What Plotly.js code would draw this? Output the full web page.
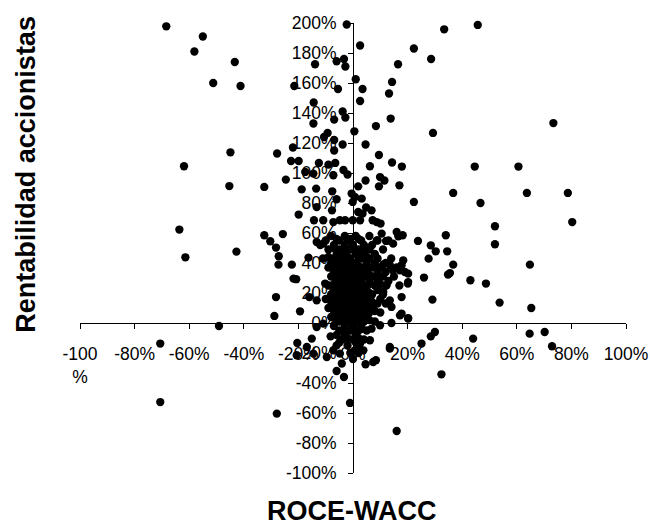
<!DOCTYPE html>
<html>
<head>
<meta charset="utf-8">
<script src="https://cdn.plot.ly/plotly-3.0.1.min.js"></script>
<style>html,body{margin:0;padding:0;background:#fff;}#chart{width:650px;height:527px;}</style>
</head>
<body>
<div id="chart"></div>
<script>
// ROCE-WACC (%) and shareholder return (%)
const roceWacc = [
-68.4,-55,-58.1,-43.3,-51.2,-41.2,-21.5,-2.3,-13.9,-6,-3.3,-2.8,1,-5.5,-14.4,-3.8,-2.8,-14.5,-6.9,-9.3,
-10.6,-6.9,-3.8,0.5,-22,-6.9,-44.9,-27.8,-22.7,-19.9,-12.5,-9,-6.5,-61.9,-3.5,-17.5,-14.5,-7.2,-2,-24.6,
2.6,33.4,45.7,22.3,28.6,16.5,14.3,3.5,13.2,2.6,13.8,8.4,73.4,29.3,4.6,9.5,14.3,6.2,17.9,44.6,
60.6,4.6,9.9,11.5,9.5,17,1.9,-45.3,-32.5,-18.8,-13.5,-7.6,-6,-13.3,-7.7,-19.9,-14.3,-10.9,-7.2,-4.8,
-2.9,-0.1,-63.6,-32.5,-25.7,-30.3,-28.2,-27.2,-27.3,-22.4,-42.7,-61.4,-21.8,-20.8,-16.3,-13.3,-10.9,-28.2,-28.8,-19.4,
-16,-13.3,-10.2,-49.1,-70.6,-70.6,-27.9,-20.4,-20.6,-16.9,-14.5,-9.6,-8.2,-6,-4.8,-4.1,-6,-3.3,-1.1,32.4,
16,4.6,7.4,8.4,6.2,13.5,25.1,28.5,30,44,64.7,70.2,72.9,36.7,63.7,78.7,22.3,46.7,80.3,52,
52,34,23.8,28.5,30.3,34.5,27.7,36.7,64.8,34.8,35.5,26,43,48.7,20.1,29.1,53.7,65.3,17.8,17.8,
20.2,14.1,13.5,14.1,0.7,3.2,-0.1,4.8,6.8,1.9,3.5,2.6,7.2,8.7,10.1,16,18.2,16.6,10.5,8.7,
12.1,14.7,18.4,17.8,13.5,14.7,17.2,20.2,11.1,12.3,11.1,19,20.2,17.2,20.2,9.9,6.8,13.5,-15.1,-7.2,
0.7,2.6,3.8,-13.3,-10.9,-0.5,
-8,-3,1,6, -10,-5,-2,3,9,13, -12,-7,-3,0,4,7, -9,-5,-1,2,6,11, -6,-3,1,4,8,
-11,-7,-4,-1,3,6,9,14, -8,-5,-2,1,5,8,12, -9,-6,-3,0,3,7,10,16, -7,-4,-1,2,5,9,12,
-8,-5,-2,1,4,7,11,15, -6,-3,0,3,6,9,13, -9,-5,-2,1,4,8,12,17, -7,-4,-1,2,5,9,
-8,-5,-2,1,4,7,11, -10,-6,-3,0,3,6,10, -7,-4,-1,2,5,9,12, -9,-5,-2,1,4,7,
-6,-3,0,3,6,10, -8,-4,-1,2,5, -5,-2,1,4,8, -7,-3,0,3, -5,-1,2,5, -6,-3,1, -4,0,4, -2,2,
-6,-1,2, -7,-3,0,4, -9,-5,-2,2,5, -7,-4,-1,2,5,8, -6,-3,0,3,6,9, -7,-4,-1,2,6,10,
-6,-3,0,3,6, -8,-5,-2,1,4,7, -7,-4,-1,2,5,8, -6,-3,0,3,6, -3,0,3, -2,2, -5,1, -1,2, 0
];
const rentabilidad = [
197.8,191,181,174,160,158,158,199,172.5,174.5,176,171,162.5,156,147,141,137,133,135.6,126.7,
124,122,119,127.8,117,115,113.8,113,108,108,106.7,105.6,106.7,104.5,102,100.7,99.6,98.5,99,95.6,
185,195.8,198.7,183,176,172.5,160.7,156,153,148,136.3,131.3,133.3,126.7,119,112,107,104.5,104.3,104.3,
104.3,95,97.3,95,91.1,91.8,91.1,91.3,90.7,89.1,89.6,87.8,82.5,77.3,75.1,72.3,68.5,68.5,67.3,68.5,
68.5,68.5,62.3,58.5,59.3,54.5,50.3,44.5,38.9,38.9,47.6,43.8,29.6,29.2,43.6,54,52.9,17.3,4.7,7.8,
17.3,15.1,26.3,-2,-13.7,-52.7,-60.4,-13.3,-21.5,-16,-20.4,-22.7,-8.9,-14.9,-20.4,-27,-32,-36,-53.3,-34.2,
-72,-27.5,-26,-24.8,-11.5,-16,-13.7,-8.9,-6,-10.4,-7.1,-6,-15.5,86.7,86.7,86.7,80.7,80,67.3,64.5,
52.5,58.5,54.7,51.8,47.8,47.8,42.9,38.9,38.9,32.3,33.3,30.3,28.5,26.3,26.3,15.6,13.6,10,17.3,6.3,
3.3,0,15.1,10.7,84,82.9,80.7,77,75.1,74,72.9,68.5,68.5,67.3,66.3,60.7,58.5,57.8,59.6,55.1,
54.7,52.9,41.8,38.5,38.5,35.1,35.1,32.9,39.1,25.1,20.7,34,27.3,5.1,2.9,-1.5,-3.8,-17.1,-10.4,-18.2,
-18.2,-13.7,-18.2,-2.7,-0.4,86.3,
58,58,58,58, 55,55,55,55,55,55, 52,52,52,52,52,52, 49,49,49,49,49,49, 46,46,46,46,46,
43,43,43,43,43,43,43,43, 40,40,40,40,40,40,40, 37,37,37,37,37,37,37,37, 34,34,34,34,34,34,34,
31,31,31,31,31,31,31,31, 28,28,28,28,28,28,28, 25,25,25,25,25,25,25,25, 22,22,22,22,22,22,
19,19,19,19,19,19,19, 16,16,16,16,16,16,16, 13,13,13,13,13,13,13, 10,10,10,10,10,10,
7,7,7,7,7,7, 4,4,4,4,4, 1,1,1,1,1, -2,-2,-2,-2, -5,-5,-5,-5, -8,-8,-8, -11,-11,-11, -15,-15,
56,56,56, 50,50,50,50, 44,44,44,44,44, 38,38,38,38,38,38, 32,32,32,32,32,32, 26,26,26,26,26,26,
20,20,20,20,20, 14,14,14,14,14,14, 8,8,8,8,8,8, 2,2,2,2,2, -4,-4,-4, -10,-10, -13,-13, -20,-20, -24
];
const xTickVals = [-100,-80,-60,-40,-20,0,20,40,60,80,100];
const xTickText = ['-100<br>%','-80%','-60%','-40%','-20%','0%','20%','40%','60%','80%','100%'];
const yTickVals = [-100,-80,-60,-40,-20,0,20,40,60,80,100,120,140,160,180,200];
const yTickText = ['-100%','-80%','-60%','-40%','-20%','0%','20%','40%','60%','80%','100%','120%','140%','160%','180%','200%'];
const xTitle = 'ROCE-WACC';
const yTitle = 'Rentabilidad accionistas';

const FONT = 'Arial, "Liberation Sans", sans-serif';
const axisCommon = {
  showgrid:false, zeroline:false, showline:true, linecolor:'#000', linewidth:1,
  ticks:'outside', ticklen:5, tickwidth:1, tickcolor:'#000',
  tickfont:{family:FONT, size:17.5, color:'#000'}, layer:'below traces',
  anchor:'free', fixedrange:true
};
const trace = {
  x: roceWacc, y: rentabilidad, type:'scatter', mode:'markers',
  marker:{size:8.3, color:'#000', line:{width:0}}, hoverinfo:'skip', cliponaxis:false
};
const layout = {
  width:650, height:527,
  margin:{l:80, r:24, t:23, b:54, pad:0},
  paper_bgcolor:'#fff', plot_bgcolor:'#fff', showlegend:false,
  font:{family:FONT, color:'#000'},
  xaxis: Object.assign({}, axisCommon, {range:[-100,100], tickmode:'array', tickvals:xTickVals, ticktext:xTickText, position:1/3, ticklabelstandoff:10}),
  yaxis: Object.assign({}, axisCommon, {range:[-100,200], tickmode:'array', tickvals:yTickVals, ticktext:yTickText, position:0.5, ticklabelstandoff:8}),
  annotations:[
    {text:'<b>'+xTitle+'</b>', xref:'paper', yref:'paper', x:0.498, y:-0.085, xanchor:'center', yanchor:'middle', showarrow:false, font:{family:FONT, size:27, color:'#000'}},
    {text:'<b>'+yTitle+'</b>', xref:'paper', yref:'paper', x:-0.098, y:0.664, xanchor:'center', yanchor:'middle', textangle:-90, showarrow:false, font:{family:FONT, size:27, color:'#000'}}
  ]
};
Plotly.newPlot('chart', [trace], layout, {displayModeBar:false, staticPlot:true});
</script>
</body>
</html>
